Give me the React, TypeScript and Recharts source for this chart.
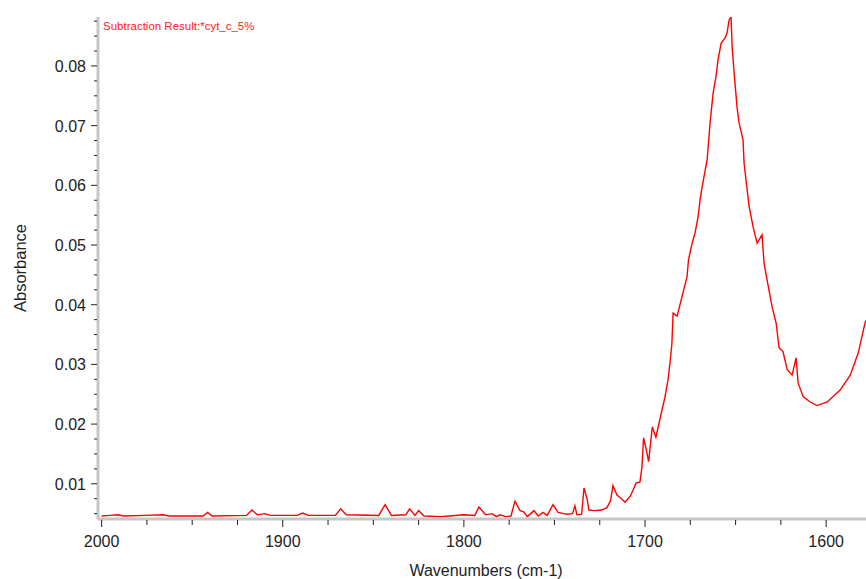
import { LineChart, Line, XAxis, YAxis } from "recharts"

// wavenumber (cm-1)
const wavenumbers = [
  2000, 1995, 1991, 1988, 1976, 1966, 1963, 1944, 1941.5, 1939, 1920, 1917, 1914, 1910, 1907,
  1892, 1889, 1886, 1871, 1868, 1865, 1847, 1843.5, 1840, 1832, 1830, 1827, 1825, 1822, 1813,
  1808, 1800, 1794, 1791.7, 1788, 1784.5, 1782, 1780, 1777, 1774, 1771.8, 1769, 1767, 1765,
  1761.3, 1759, 1756.4, 1754, 1750.8, 1748, 1745, 1743, 1740, 1738.7, 1737.6, 1735, 1733.7,
  1732, 1731, 1728, 1724, 1721, 1719, 1717.7, 1715.5, 1713, 1711, 1708, 1706.5, 1705, 1702.8,
  1701.7, 1700.8, 1699.5, 1698, 1696, 1694, 1690.6, 1689, 1687.3, 1686.2, 1685.2, 1684.5,
  1682.3, 1679.6, 1676.8, 1676, 1674, 1672.4, 1670.7, 1669.6, 1668.5, 1665.7, 1664.1, 1662.4,
  1660.8, 1659.7, 1658, 1655.8, 1654.7, 1653.6, 1652.5, 1651.9, 1650.8, 1649.2, 1648.1,
  1645.9, 1645.3, 1643.6, 1642.5, 1640.3, 1638.1, 1635.4, 1634.3, 1632.6, 1629.8, 1627.6,
  1626, 1623.8, 1621.5, 1618.8, 1616.6, 1615.5, 1612.7, 1608.8, 1605, 1599.4, 1592.3, 1586.7,
  1582.3, 1578.5, 1577.9,
]

const absorbance = [
  0.0046, 0.0047, 0.0048, 0.0046, 0.0047, 0.0048, 0.0046, 0.0046, 0.0052, 0.0046, 0.0047,
  0.0056, 0.0048, 0.005, 0.0047, 0.0047, 0.0051, 0.0047, 0.0047, 0.0058, 0.0048, 0.0047,
  0.0065, 0.0047, 0.0048, 0.0058, 0.0047, 0.0055, 0.0046, 0.0045, 0.0046, 0.0048, 0.0047,
  0.0061, 0.0048, 0.005, 0.0045, 0.0048, 0.0045, 0.0046, 0.0071, 0.0055, 0.0053, 0.0045,
  0.0055, 0.0046, 0.0052, 0.0047, 0.0065, 0.0052, 0.005, 0.0049, 0.005, 0.0063, 0.0048,
  0.0049, 0.0093, 0.0075, 0.0056, 0.0055, 0.0056, 0.006, 0.0072, 0.0097, 0.0081, 0.0075,
  0.0069, 0.008, 0.009, 0.0101, 0.0103, 0.0128, 0.0177, 0.016, 0.0137, 0.0195, 0.0178,
  0.0224, 0.0245, 0.0274, 0.0303, 0.0333, 0.0386, 0.0381, 0.0413, 0.0447, 0.0475, 0.0503,
  0.052, 0.0547, 0.0576, 0.0597, 0.0643, 0.0704, 0.0755, 0.0782, 0.081, 0.0838, 0.0847,
  0.0855, 0.0877, 0.0882, 0.0832, 0.0788, 0.0731, 0.0705, 0.0676, 0.0637, 0.0592, 0.0564,
  0.053, 0.0503, 0.0517, 0.047, 0.0441, 0.0396, 0.0369, 0.0328, 0.0321, 0.0291, 0.0282,
  0.0311, 0.0269, 0.0246, 0.0237, 0.0231, 0.0237, 0.0257, 0.0282, 0.0319, 0.037, 0.0374,
]

const xMajorTicks = [2000, 1900, 1800, 1700, 1600]
const xTicks = [
  2000, 1975, 1950, 1925, 1900, 1875, 1850, 1825, 1800, 1775, 1750, 1725, 1700, 1675, 1650,
  1625, 1600,
]
const yMajorTicks = [0.01, 0.02, 0.03, 0.04, 0.05, 0.06, 0.07, 0.08]
const yTicks = [
  0.005, 0.0075, 0.01, 0.0125, 0.015, 0.0175, 0.02, 0.0225, 0.025, 0.0275, 0.03, 0.0325,
  0.035, 0.0375, 0.04, 0.0425, 0.045, 0.0475, 0.05, 0.0525, 0.055, 0.0575, 0.06, 0.0625,
  0.065, 0.0675, 0.07, 0.0725, 0.075, 0.0775, 0.08, 0.0825, 0.085, 0.0875,
]

const data = wavenumbers.map((wn, i) => ({ wn, abs: absorbance[i] }))

const FONT = '"Liberation Sans", Arial, sans-serif'

const isMajor = (v: number, majors: number[]) =>
  majors.some((m) => Math.abs(m - v) < 1e-9)

const YTick = (props: any) => {
  const { x, y, payload } = props
  const major = isMajor(payload.value, yMajorTicks)
  return (
    <g>
      <line x1={major ? x - 7 : x - 4} x2={x - 1} y1={y} y2={y} stroke="#222" strokeWidth={1} />
      {major && (
        <text x={x - 12} y={y + 6} textAnchor="end" fontSize={16} fontFamily={FONT} fill="#222">
          {payload.value.toFixed(2)}
        </text>
      )}
    </g>
  )
}

const XTick = (props: any) => {
  const { x, y, payload } = props
  const major = isMajor(payload.value, xMajorTicks)
  return (
    <g>
      <line x1={x} x2={x} y1={y + 1} y2={major ? y + 8 : y + 6} stroke="#222" strokeWidth={1} />
      {major && (
        <text x={x} y={y + 28} textAnchor="middle" fontSize={16} fontFamily={FONT} fill="#222">
          {payload.value}
        </text>
      )}
    </g>
  )
}

export default function App() {
  return (
    <div
      style={{
        position: "absolute",
        left: 0,
        top: 0,
        width: 866,
        height: 579,
        background: "#fff",
        fontFamily: FONT,
      }}
    >
      <LineChart
        width={866}
        height={579}
        data={data}
        margin={{ top: 17, right: 0, bottom: 0, left: 0 }}
      >
        <XAxis
          dataKey="wn"
          type="number"
          domain={[1578, 2002]}
          reversed
          allowDataOverflow
          ticks={xTicks}
          interval={0}
          tick={<XTick />}
          tickLine={false}
          tickSize={0}
          tickMargin={0}
          axisLine={{ stroke: "#c6c6c6", strokeWidth: 3 }}
          height={60}
        />
        <YAxis
          type="number"
          domain={[0.0041, 0.0882]}
          allowDataOverflow
          ticks={yTicks}
          interval={0}
          tick={<YTick />}
          tickLine={false}
          tickSize={0}
          tickMargin={0}
          axisLine={{ stroke: "#c6c6c6", strokeWidth: 3 }}
          width={98}
        />
        <Line
          type="linear"
          dataKey="abs"
          stroke="#ff0000"
          strokeWidth={1.4}
          dot={false}
          isAnimationActive={false}
        />
      </LineChart>
      <div
        style={{
          position: "absolute",
          left: 103,
          top: 20,
          fontSize: 11.5,
          color: "#ff2020",
          whiteSpace: "nowrap",
        }}
      >
        Subtraction Result:*cyt_c_5%
      </div>
      <div
        style={{
          position: "absolute",
          left: 20,
          top: 268,
          fontSize: 16.5,
          color: "#222",
          whiteSpace: "nowrap",
          transform: "translate(-50%, -50%) rotate(-90deg)",
        }}
      >
        Absorbance
      </div>
      <div
        style={{
          position: "absolute",
          left: 486,
          top: 562,
          fontSize: 16,
          color: "#222",
          whiteSpace: "nowrap",
          transform: "translateX(-50%)",
        }}
      >
        Wavenumbers (cm-1)
      </div>
    </div>
  )
}
